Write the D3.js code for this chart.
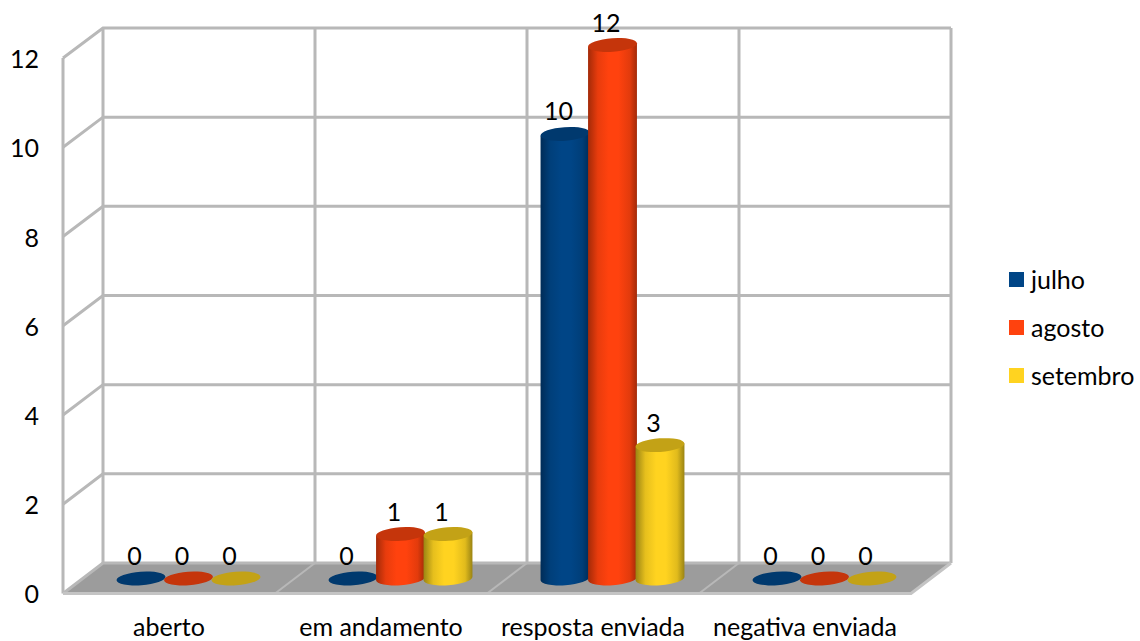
<!DOCTYPE html>
<html><head><meta charset="utf-8">
<script src="https://cdn.jsdelivr.net/npm/d3@7/dist/d3.min.js"></script>
<style>html,body{margin:0;background:#fff}svg{display:block}text{font-family:Lato,sans-serif;fill:#000}</style>
</head><body><svg width="1140" height="641"></svg>
<script>
const categories=["aberto","em andamento","resposta enviada","negativa enviada"];
const seriesNames=["julho","agosto","setembro"];
const julho=[0,0,10,0];
const agosto=[0,1,12,0];
const setembro=[0,1,3,0];
const yTicks=[0,2,4,6,8,10,12];
const seriesValues=[julho,agosto,setembro];
const mainColors=["#004586","#ff420e","#ffd320"];
const darkColors=["#002c57","#a32a08","#9a8414"];
const topColors=["#00396e","#c5350b","#c3a216"];

const svg=d3.select("svg");
const FS=25, RX=24.5, RY=6.8, TILT=4;
const frontY=d3.scaleLinear().domain([0,12]).range([593.5,58]);
const axisY=d3.scaleLinear().domain([0,12]).range([594,59]);
const backY=d3.scaleLinear().domain([0,12]).range([563,28]);
const barY=d3.scaleLinear().domain([0,12]).range([578.5,45]);
const frontX=d3.scaleBand().domain(categories).range([63,911]);
const backX=d3.scaleBand().domain(categories).range([103,951]);
const midX=d3.scaleBand().domain(categories).range([82.5,930.5]);
const seriesX=d3.scalePoint().domain(seriesNames).range([-47.5,47.5]);

// defs
const defs=svg.append("defs");
seriesNames.forEach((s,i)=>{
  const g=defs.append("linearGradient").attr("id","g"+i);
  [[0,darkColors[i]],[.2,d3.interpolateRgb(darkColors[i],mainColors[i])(.75)],[.42,mainColors[i]],[.62,mainColors[i]],[.85,d3.interpolateRgb(darkColors[i],mainColors[i])(.7)],[1,darkColors[i]]]
   .forEach(([o,c])=>g.append("stop").attr("offset",o).attr("stop-color",c));
});

// floor
const fx0=frontX.range()[0],fx1=frontX.range()[1],bx0=backX.range()[0],bx1=backX.range()[1];
const f0=frontY(0),b0=backY(0);
svg.append("path").attr("d",d3.line()([[fx0,f0],[bx0,b0],[bx1,b0],[fx1,f0]])+"Z").attr("fill","#9c9c9c");

// walls grid
const grid=svg.append("g").attr("fill","none").attr("stroke","#b8b8b8").attr("stroke-width",3);
yTicks.forEach(t=>{
  grid.append("path").attr("d",d3.line()([[fx0,frontY(t)],[bx0,backY(t)],[bx1,backY(t)]]));
});
grid.append("line").attr("x1",fx0).attr("x2",fx0).attr("y1",frontY(12)).attr("y2",frontY(0));
grid.append("line").attr("x1",bx0).attr("x2",bx0).attr("y1",backY(12)).attr("y2",backY(0));
grid.append("line").attr("x1",bx1).attr("x2",bx1).attr("y1",backY(12)).attr("y2",backY(0));
categories.slice(1).forEach(c=>{
  const bx=backX(c);
  grid.append("line").attr("x1",bx).attr("x2",bx).attr("y1",backY(12)).attr("y2",backY(0));
  grid.append("line").attr("x1",bx).attr("x2",frontX(c)).attr("y1",backY(0)).attr("y2",frontY(0)).attr("stroke-width",2);
});
grid.append("path").attr("d",d3.line()([[fx0,f0],[fx1,f0],[bx1,b0]])).attr("stroke","#c4c4c4");

// cylinders
const dx=RX*Math.cos(TILT*Math.PI/180), dy=RX*Math.sin(TILT*Math.PI/180);
const marks=svg.append("g");
categories.forEach((c,ci)=>{
  const cc=midX(c)+midX.bandwidth()/2;
  seriesNames.forEach((s,si)=>{
    const v=seriesValues[si][ci];
    const cx=cc+seriesX(s), yb=barY(0), yt=barY(v);
    if(v>0){
      marks.append("path").attr("fill",`url(#g${si})`)
        .attr("d",`M${cx-dx},${yt+dy}L${cx-dx},${yb+dy}A${RX},${RY} ${-TILT} 0 0 ${cx+dx},${yb-dy}L${cx+dx},${yt-dy}Z`);
    }
    marks.append("ellipse").attr("cx",cx).attr("cy",yt).attr("rx",RX).attr("ry",RY)
      .attr("transform",`rotate(${-TILT} ${cx} ${yt})`).attr("fill",topColors[si]);
  });
});
// data labels
const labels=svg.append("g").attr("font-size",FS).attr("text-anchor","middle");
categories.forEach((c,ci)=>{
  const cc=midX(c)+midX.bandwidth()/2;
  seriesNames.forEach((s,si)=>{
    const v=seriesValues[si][ci];
    labels.append("text").attr("x",cc+seriesX(s)-6.5).attr("y",barY(v)-13.5).text(v);
  });
});

// axes
const ya=svg.append("g").attr("transform","translate(39,0)").call(d3.axisLeft(axisY).tickValues(yTicks).tickSize(0).tickPadding(0));
ya.select(".domain").remove();
ya.selectAll("text").attr("font-size",FS).attr("dy","0.35em").style("font-family","Lato,sans-serif").attr("fill","#000");
const xa=svg.append("g").attr("transform","translate(0,627)").call(d3.axisBottom(frontX).tickSize(0).tickPadding(0));
xa.select(".domain").remove();
xa.selectAll("text").attr("font-size",FS).attr("y",0).attr("dy","0.35em").style("font-family","Lato,sans-serif").attr("fill","#000");

// legend
const legY=d3.scalePoint().domain(seriesNames).range([280,376]);
seriesNames.forEach((s,i)=>{
  svg.append("rect").attr("x",1009).attr("y",legY(s)-8).attr("width",15).attr("height",15).attr("fill",mainColors[i]);
  svg.append("text").attr("x",1031).attr("y",legY(s)).attr("dy","0.35em").attr("font-size",FS).text(s);
});
</script></body></html>
